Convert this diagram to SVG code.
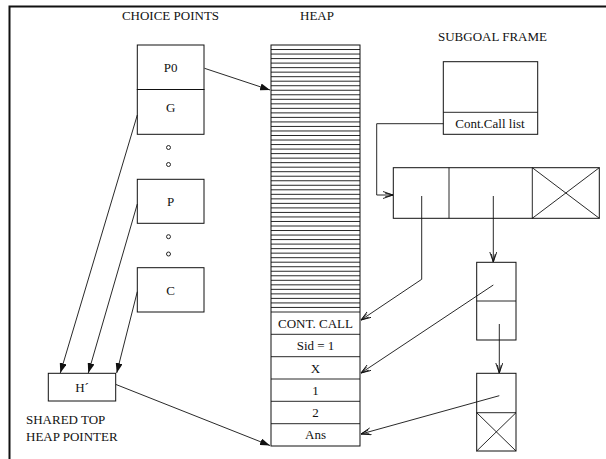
<svg xmlns="http://www.w3.org/2000/svg" width="606" height="459" viewBox="0 0 606 459">
<style>
text{font-family:"Liberation Serif","Times New Roman",serif;font-size:13px;fill:#111}
.c{text-anchor:middle}
.b{fill:#fff;stroke:#111;stroke-width:1}
.l{fill:none;stroke:#111;stroke-width:0.9}
</style>
<defs>
<marker id="fa" markerUnits="userSpaceOnUse" markerWidth="11" markerHeight="7" refX="10" refY="3.5" orient="auto"><path d="M0,0 L10,3.5 L0,7 z" fill="#111"/></marker>
<marker id="oa" markerUnits="userSpaceOnUse" markerWidth="11" markerHeight="8" refX="10" refY="4" orient="auto"><path d="M0,0.5 L10,4 L0,7.5 M2,2 L10,4 L2,6" fill="none" stroke="#111" stroke-width="0.9"/></marker>
</defs>
<rect width="606" height="459" fill="#fff"/>
<path d="M9.5,470 V6.5 H620" fill="none" stroke="#111" stroke-width="2"/>
<text class="c" x="170.5" y="20">CHOICE POINTS</text>
<text x="300" y="20">HEAP</text>
<text x="438" y="41">SUBGOAL FRAME</text>
<text x="26" y="424">SHARED TOP</text>
<text x="26" y="441">HEAP POINTER</text>
<g id="cp-p0"><rect class="b" x="137.3" y="45" width="66.7" height="44.5"/><text class="c" x="170.6" y="72">P0</text></g>
<g id="cp-g"><rect class="b" x="137.3" y="89.5" width="66.7" height="44.8"/><text class="c" x="170.6" y="112">G</text></g>
<g id="dots1"><circle class="l" cx="168.5" cy="147.5" r="2"/><circle class="l" cx="168.5" cy="164.5" r="2"/></g>
<g id="cp-p"><rect class="b" x="137.3" y="179.3" width="66.7" height="44"/><text class="c" x="170.6" y="206">P</text></g>
<g id="dots2"><circle class="l" cx="168.5" cy="236.7" r="2"/><circle class="l" cx="168.5" cy="254" r="2"/></g>
<g id="cp-c"><rect class="b" x="137.3" y="267.7" width="66.7" height="44.3"/><text class="c" x="170.6" y="295">C</text></g>
<g id="hprime"><rect class="b" x="48.3" y="373.3" width="67.4" height="27.7"/><text class="c" x="82" y="391.5">H´</text></g>
<g id="heap">
<rect class="b" x="271" y="45" width="89" height="401"/>
<path class="l" d="M271,49.53H360M271,54.05H360M271,58.58H360M271,63.1H360M271,67.63H360M271,72.15H360M271,76.68H360M271,81.2H360M271,85.73H360M271,90.25H360M271,94.78H360M271,99.3H360M271,103.83H360M271,108.35H360M271,112.88H360M271,117.4H360M271,121.93H360M271,126.45H360M271,130.98H360M271,135.5H360M271,140.03H360M271,144.55H360M271,149.08H360M271,153.6H360M271,158.13H360M271,162.65H360M271,167.18H360M271,171.7H360M271,176.23H360M271,180.75H360M271,185.28H360M271,189.8H360M271,194.33H360M271,198.85H360M271,203.38H360M271,207.9H360M271,212.43H360M271,216.95H360M271,221.48H360M271,226H360M271,230.53H360M271,235.05H360M271,239.58H360M271,244.1H360M271,248.63H360M271,253.15H360M271,257.68H360M271,262.2H360M271,266.73H360M271,271.25H360M271,275.78H360M271,280.3H360M271,284.83H360M271,289.35H360M271,293.88H360M271,298.4H360M271,302.93H360M271,307.45H360M271,312H360M271,334.3H360M271,356.7H360M271,379H360M271,401.3H360M271,423.7H360"/>
<text class="c" x="315.5" y="328">CONT. CALL</text>
<text class="c" x="315.5" y="350">Sid = 1</text>
<text class="c" x="315.5" y="372.5">X</text>
<text class="c" x="315.5" y="394.5">1</text>
<text class="c" x="315.5" y="417">2</text>
<text class="c" x="315.5" y="439">Ans</text>
</g>
<g id="subgoal"><rect class="b" x="443.3" y="61.7" width="94.4" height="72.6"/><path class="l" d="M443.3,112.3H537.7"/><text class="c" x="490" y="128">Cont.Call list</text></g>
<g id="cclist"><rect class="b" x="393.3" y="167.7" width="206" height="50.6"/><path class="l" d="M449,167.7V218.3M532.3,167.7V218.3M532.3,167.7L599.3,218.3M599.3,167.7L532.3,218.3"/></g>
<g id="node1"><rect class="b" x="476.7" y="262.3" width="39.3" height="77.7"/><path class="l" d="M476.7,301H516"/></g>
<g id="node2"><rect class="b" x="476.7" y="373.3" width="39.3" height="77.7"/><path class="l" d="M476.7,412.7H516M476.7,412.7L516,451M516,412.7L476.7,451"/></g>
<g id="connectors">
<path class="l" d="M204.5,68.3L270,90" marker-end="url(#fa)"/>
<path class="l" d="M137.3,115L60.3,373" marker-end="url(#fa)"/>
<path class="l" d="M137.3,204L88.3,373" marker-end="url(#fa)"/>
<path class="l" d="M137.3,291.7L116.7,373" marker-end="url(#fa)"/>
<path class="l" d="M116,384.5L270,445.5" marker-end="url(#fa)"/>
<path class="l" d="M443.3,123.7H376.7V195H393" marker-end="url(#oa)"/>
<path class="l" d="M421.7,196V279.3L361,320" marker-end="url(#oa)"/>
<path class="l" d="M493.3,196V262" marker-end="url(#oa)"/>
<path class="l" d="M493.3,285L361,373" marker-end="url(#oa)"/>
<path class="l" d="M499.3,324V373" marker-end="url(#oa)"/>
<path class="l" d="M499.3,395.7L361,434" marker-end="url(#oa)"/>
</g>
</svg>
